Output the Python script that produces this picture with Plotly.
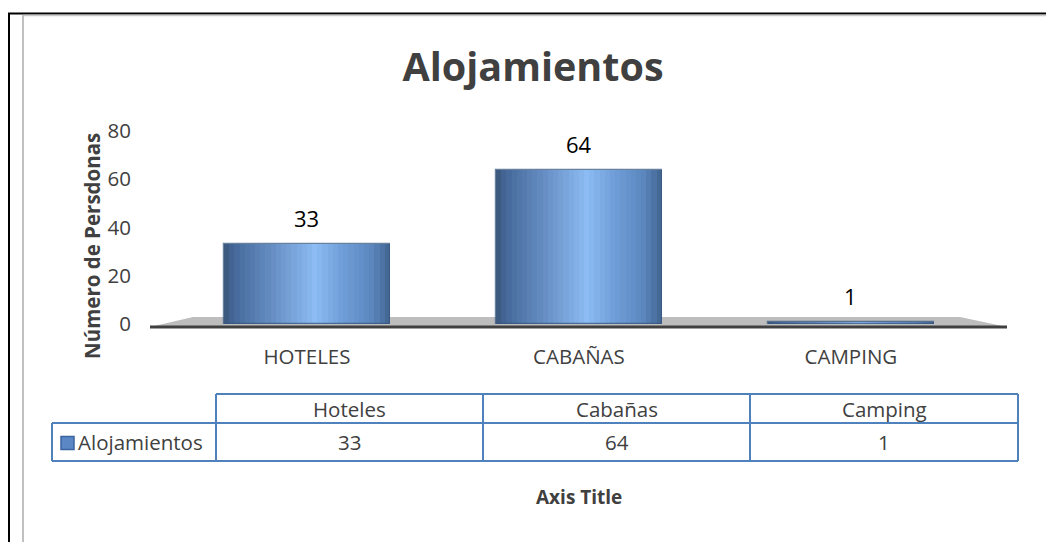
import plotly.graph_objects as go

# ---------------- data ----------------
categories = ["HOTELES", "CABAÑAS", "CAMPING"]
table_headers = ["Hoteles", "Cabañas", "Camping"]
series_name = "Alojamientos"
values = [33, 64, 1]
y_ticks = [0, 20, 40, 60, 80]

# ---------------- styling ----------------
FONT = "Open Sans"
TXT = "#404040"
W, H = 1046, 542
PL, PR, PT, PB = 150, 1007, 131, 324  # plot area in pixels


def fx(px):
    return (px - PL) / (PR - PL)


def fy(py):
    return (PB - py) / (PB - PT)


def hex2rgb(h):
    h = h.lstrip("#")
    return tuple(int(h[i:i + 2], 16) for i in (0, 2, 4))


# cylinder shading stops (position across bar, colour)
shade_stops = [(0.0, "#3a5679"), (0.06, "#46699a"), (0.3, "#6890c6"),
               (0.55, "#8dbdf4"), (0.7, "#72a0da"), (0.9, "#5a86bd"), (1.0, "#42648e")]


def shade(t):
    for (t0, c0), (t1, c1) in zip(shade_stops[:-1], shade_stops[1:]):
        if t0 <= t <= t1:
            a = (t - t0) / (t1 - t0) if t1 > t0 else 0
            r0, g0, b0 = hex2rgb(c0)
            r1, g1, b1 = hex2rgb(c1)
            return "rgb(%d,%d,%d)" % (r0 + (r1 - r0) * a, g0 + (g1 - g0) * a, b0 + (b1 - b0) * a)
    return shade_stops[-1][1]


BAR_W = 0.61
N_SLICES = 32
slice_w = BAR_W / N_SLICES

fig = go.Figure()
for i in range(N_SLICES):
    t = (i + 0.5) / N_SLICES
    fig.add_trace(go.Bar(
        x=categories, y=values, width=slice_w * 1.05,
        offset=-BAR_W / 2 + i * slice_w,
        marker=dict(color=shade(t), line=dict(width=0)),
        showlegend=False, hoverinfo="skip",
        name=series_name,
    ))
# thin rim around each cylinder
fig.add_trace(go.Bar(
    x=categories, y=values, width=BAR_W, offset=-BAR_W / 2,
    marker=dict(color="rgba(0,0,0,0)", line=dict(width=1.2, color="rgba(55,85,125,0.75)")),
    showlegend=False, name=series_name,
))

# data labels
for c, v in zip(categories, values):
    fig.add_annotation(x=c, y=v, xref="x", yref="y", text=str(v), showarrow=False,
                       yshift=26, yanchor="middle", xanchor="center",
                       font=dict(family=FONT, size=22, color="#000000"))

shapes = []
# floor
shapes.append(dict(type="path", xref="paper", yref="paper", layer="below",
                   path="M %f,%f L %f,%f L %f,%f L %f,%f Z" % (
                       fx(150), fy(327), fx(193), fy(317), fx(960), fy(317), fx(1007), fy(327)),
                   fillcolor="#bdbdbd", line=dict(width=0)))
shapes.append(dict(type="line", xref="paper", yref="paper", layer="below",
                   x0=fx(150), x1=fx(1007), y0=fy(327), y1=fy(327),
                   line=dict(color="#404040", width=3)))

# outer frame
shapes.append(dict(type="line", xref="paper", yref="paper", x0=fx(8), x1=fx(1046), y0=fy(13.5), y1=fy(13.5),
                   line=dict(color="#000000", width=2)))
shapes.append(dict(type="line", xref="paper", yref="paper", x0=fx(9), x1=fx(9), y0=fy(13), y1=fy(542),
                   line=dict(color="#000000", width=2)))
shapes.append(dict(type="line", xref="paper", yref="paper", x0=fx(23), x1=fx(1046), y0=fy(15.5), y1=fy(15.5),
                   line=dict(color="#c8c8c8", width=1.5)))
shapes.append(dict(type="line", xref="paper", yref="paper", x0=fx(23), x1=fx(23), y0=fy(15), y1=fy(542),
                   line=dict(color="#c0c0c0", width=2)))

# data table
BLUE = "#4f81bd"
col_edges = [216, 483, 750, 1018]
r_top, r_mid, r_bot = 394, 423, 461
left_edge = 52


def hline(x0, x1, y):
    shapes.append(dict(type="line", xref="paper", yref="paper", x0=fx(x0), x1=fx(x1), y0=fy(y), y1=fy(y),
                       line=dict(color=BLUE, width=2)))


def vline(x, y0, y1):
    shapes.append(dict(type="line", xref="paper", yref="paper", x0=fx(x), x1=fx(x), y0=fy(y0), y1=fy(y1),
                       line=dict(color=BLUE, width=2)))


hline(col_edges[0], col_edges[-1], r_top)
hline(left_edge, col_edges[-1], r_mid)
hline(left_edge, col_edges[-1], r_bot)
vline(left_edge, r_mid, r_bot)
for xe in col_edges:
    vline(xe, r_top, r_bot)

# legend key
shapes.append(dict(type="rect", xref="paper", yref="paper", x0=fx(61), x1=fx(74), y0=fy(436.5), y1=fy(449.5),
                   fillcolor="#5b87c5", line=dict(color="#3b64a0", width=1.5)))

TBL = 20.5
for k, (hdr, v) in enumerate(zip(table_headers, values)):
    cx = (col_edges[k] + col_edges[k + 1]) / 2
    fig.add_annotation(x=fx(cx), y=fy((r_top + r_mid) / 2), xref="paper", yref="paper", text=hdr,
                       showarrow=False, xanchor="center", yanchor="middle",
                       font=dict(family=FONT, size=TBL, color=TXT))
    fig.add_annotation(x=fx(cx), y=fy((r_mid + r_bot) / 2), xref="paper", yref="paper", text=str(v),
                       showarrow=False, xanchor="center", yanchor="middle",
                       font=dict(family=FONT, size=TBL, color=TXT))
fig.add_annotation(x=fx(76), y=fy((r_mid + r_bot) / 2), xref="paper", yref="paper", text=series_name,
                   xanchor="left", yanchor="middle", showarrow=False,
                   font=dict(family=FONT, size=TBL, color=TXT))

# x axis title (below the table)
fig.add_annotation(x=fx(579), y=fy(497), xref="paper", yref="paper", text="<b>Axis Title</b>",
                   showarrow=False, xanchor="center", yanchor="middle",
                   font=dict(family=FONT, size=19, color=TXT))

# y axis title
fig.add_annotation(x=fx(92), y=fy(246), xref="paper", yref="paper", text="<b>Número de Persdonas</b>",
                   textangle=-90, showarrow=False, xanchor="center", yanchor="middle",
                   font=dict(family=FONT, size=20.5, color=TXT))

fig.update_layout(
    width=W, height=H,
    margin=dict(l=PL, r=W - PR, t=PT, b=H - PB, autoexpand=False),
    paper_bgcolor="white", plot_bgcolor="rgba(0,0,0,0)",
    barmode="overlay", bargap=0,
    showlegend=False,
    shapes=shapes,
    title=dict(text="<b>Alojamientos</b>", x=533 / W, xanchor="center", xref="container",
               y=1 - 67 / H, yanchor="middle", yref="container",
               font=dict(family=FONT, size=39.5, color=TXT)),
    font=dict(family=FONT, color=TXT),
)
fig.update_xaxes(type="category", range=[-0.577, 2.574], showgrid=False, zeroline=False, showline=False,
                 ticks="", ticklabelstandoff=18, tickfont=dict(family=FONT, size=20.5, color=TXT),
                 automargin=False, fixedrange=True)
fig.update_yaxes(range=[0, 80], tickvals=y_ticks, showgrid=False, zeroline=False, showline=False,
                 ticks="", ticklabelstandoff=18, tickfont=dict(family=FONT, size=20.5, color=TXT),
                 automargin=False, fixedrange=True)

fig.write_html("out.html", config={"displayModeBar": False},
               post_script="document.body.style.margin='0';document.body.style.overflow='hidden';")
